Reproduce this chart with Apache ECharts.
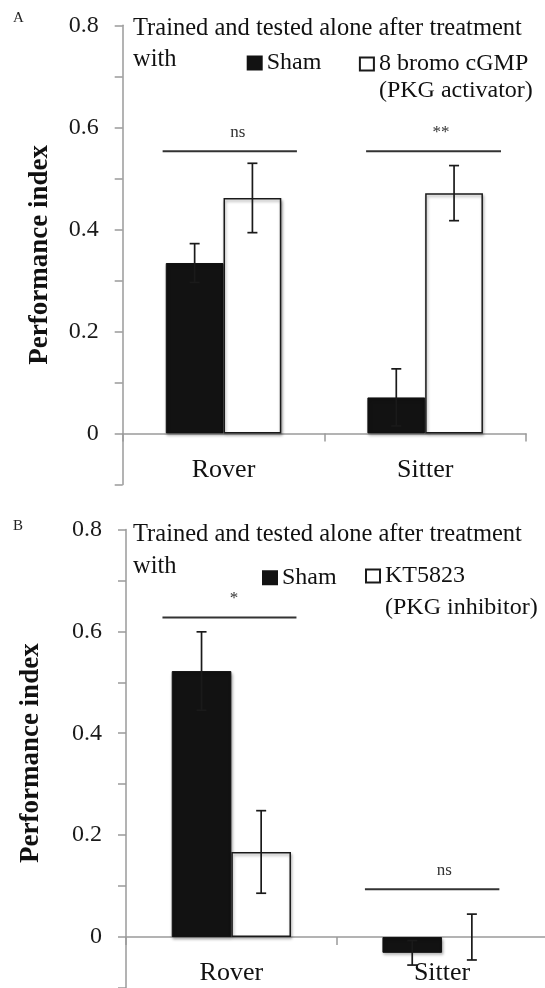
<!DOCTYPE html>
<html>
<head>
<meta charset="utf-8">
<script src="https://cdn.jsdelivr.net/npm/echarts@6/dist/echarts.min.js"></script>
<style>
html,body{margin:0;padding:0;background:#fff;}
#chart{width:545px;height:988px;}
</style>
</head>
<body>
<div id="chart"></div>
<script>
// ---------- data ----------
const CATEGORIES = ['Rover', 'Sitter'];

const A_SHAM = [0.334, 0.0705];
const A_SHAM_ERR = [0.038, 0.056];
const A_TREAT = [0.4615, 0.471];
const A_TREAT_ERR = [0.068, 0.054];
const A_SIG_LABELS = ['ns', '**'];
const A_SIG_Y = [0.553, 0.553];

const B_SHAM = [0.522, -0.031];
const B_SHAM_ERR = [0.077, 0.024];
const B_TREAT = [0.167, 0];
const B_TREAT_ERR = [0.081, 0.045];
const B_SIG_LABELS = ['*', 'ns'];
const B_SIG_Y = [0.627, 0.0936];

const Y_MIN = -0.1, Y_MAX = 0.8, Y_STEP = 0.1;

const A_NAMES = ['Sham', '8 bromo cGMP (PKG activator)'];
const B_NAMES = ['Sham', 'KT5823 (PKG inhibitor)'];
const TITLE_TEXT = 'Trained and tested alone after treatment\nwith';
const Y_NAME = 'Performance index';

// ---------- style / layout ----------
const FONT = '"Liberation Serif", "Times New Roman", serif';
const AXIS_GRAY = '#9a9a9a';
const GAP_A = 0.427, GAP_B = 0.434;
const SIG_OFF_A = [[-0.302, 0.364], [-0.293, 0.376]];
const SIG_TXT_A = [0.071, 0.079];
const SIG_OFF_B = [[-0.327, 0.309], [-0.366, 0.272]];
const SIG_TXT_B = [0.013, 0.011];
const GRID_A = {left: 122.7, top: 25.3, width: 403.3, height: 459.1, outerBoundsMode: 'none', containLabel: false};
const GRID_B = {left: 126, top: 529.4, width: 421.4, height: 458.6, outerBoundsMode: 'none', containLabel: false};

const barShadow = {shadowColor: 'rgba(0,0,0,0.35)', shadowBlur: 3, shadowOffsetY: 2, shadowOffsetX: 1};

function errRender(pos, gap) {
  return function (params, api) {
    const cat = api.value(0), val = api.value(1), err = api.value(2);
    const c = api.coord([cat, val]);
    const band = api.size([1, 0])[0];
    const bw = band * (1 - gap) / 2;
    const x = c[0] + (pos === 0 ? -bw / 2 : bw / 2);
    const yHi = api.coord([cat, val + err])[1];
    const yLo = api.coord([cat, val - err])[1];
    const h = 5;
    const st = {stroke: '#1a1a1a', lineWidth: 1.7};
    return {type: 'group', children: [
      {type: 'line', shape: {x1: x, y1: yHi, x2: x, y2: yLo}, style: st},
      {type: 'line', shape: {x1: x - h, y1: yHi, x2: x + h, y2: yHi}, style: st},
      {type: 'line', shape: {x1: x - h, y1: yLo, x2: x + h, y2: yLo}, style: st}
    ]};
  };
}

function sigRender(offs, txtOffs, labels) {
  return function (params, api) {
    const i = params.dataIndex;
    const c = api.coord([api.value(0), api.value(1)]);
    const band = api.size([1, 0])[0];
    const o = offs[i];
    return {type: 'group', children: [
      {type: 'line', shape: {x1: c[0] + o[0] * band, y1: c[1], x2: c[0] + o[1] * band, y2: c[1]},
        style: {stroke: '#333', lineWidth: 2}},
      {type: 'text', style: {x: c[0] + txtOffs[i] * band, y: c[1] - 19, text: labels[i],
        align: 'center', verticalAlign: 'middle', font: '17px ' + FONT, fill: '#333'}}
    ]};
  };
}

function yAxis(gridIndex, nameGap, namePad) {
  return {
    type: 'value', gridIndex: gridIndex, min: Y_MIN, max: Y_MAX, interval: Y_STEP,
    splitLine: {show: false},
    axisLine: {show: true, lineStyle: {color: AXIS_GRAY, width: 1.5}},
    axisTick: {show: true, length: 8, lineStyle: {color: AXIS_GRAY, width: 1.5}},
    axisLabel: {
      margin: 24, fontFamily: FONT, fontSize: 24, color: '#1a1a1a',
      formatter: function (v) {
        const k = Math.round(v * 10);
        if (k < 0 || k % 2 !== 0) return '';
        return k === 0 ? '0' : (k / 10).toFixed(1);
      }
    },
    name: Y_NAME, nameLocation: 'middle', nameRotate: 90, nameGap: nameGap, nameMoveOverlap: false,
    nameTextStyle: {fontFamily: FONT, fontSize: 27, fontWeight: 'bold', color: '#111', padding: namePad}
  };
}

function xAxis(gridIndex, grid, margin) {
  // place the category axis on the value 0 line of the y axis
  const zeroOffset = -grid.height * (0 - Y_MIN) / (Y_MAX - Y_MIN);
  return {
    type: 'category', gridIndex: gridIndex, data: CATEGORIES, position: 'bottom', offset: zeroOffset,
    axisLine: {show: true, onZero: false, lineStyle: {color: AXIS_GRAY, width: 1.5}},
    axisTick: {show: true, length: 8, lineStyle: {color: AXIS_GRAY, width: 1.5}},
    axisLabel: {margin: margin, fontFamily: FONT, fontSize: 26, color: '#111'}
  };
}

function legend(name, left, top, lh) {
  return {
    data: [name], left: left, top: top, padding: 0, orient: 'horizontal',
    icon: 'rect', itemWidth: 14, itemHeight: 13, selectedMode: false,
    formatter: function (n) {
      // multi-line names: blank first line keeps the first text line level with the icon
      return n.indexOf(' (') >= 0 ? '\n' + n.replace(' (', '\n(') : n;
    },
    textStyle: {fontFamily: FONT, fontSize: 24, color: '#111', lineHeight: lh}
  };
}

function barData(vals) {
  return vals.map(function (v) {
    return v === 0 ? {value: v, itemStyle: {borderWidth: 0, shadowBlur: 0, shadowOffsetY: 0, shadowOffsetX: 0}} : v;
  });
}
function errData(vals, errs) {
  return vals.map(function (v, i) { return [i, v, errs[i]]; });
}
function sigData(ys) {
  return ys.map(function (y, i) { return [i, y]; });
}

const shamStyle = Object.assign({color: '#121212', borderColor: '#121212', borderWidth: 1}, barShadow);
const treatStyle = Object.assign({color: '#ffffff', borderColor: '#1a1a1a', borderWidth: 1.5}, barShadow);

const titleStyle = {fontFamily: FONT, fontSize: 24.5, fontWeight: 'normal', color: '#111', lineHeight: 31.7};
const panelStyle = {fontFamily: FONT, fontSize: 15, fontWeight: 'normal', color: '#222'};

const option = {
  backgroundColor: '#ffffff',
  animation: false,
  title: [
    {text: 'A', left: 13, top: 11, padding: 0, textStyle: panelStyle},
    {text: TITLE_TEXT, left: 133, top: 12.5, padding: 0, textStyle: titleStyle},
    {text: 'B', left: 13, top: 519, padding: 0, textStyle: panelStyle},
    {text: TITLE_TEXT, left: 133, top: 519, padding: 0, textStyle: titleStyle}
  ],
  legend: [
    legend(A_NAMES[0], 246.7, 49.5, 27),
    legend(A_NAMES[1], 358.9, 23.5, 27),
    legend(B_NAMES[0], 262, 561.9, 31.7),
    legend(B_NAMES[1], 365, 528.5, 31.7)
  ],
  grid: [GRID_A, GRID_B],
  xAxis: [xAxis(0, GRID_A, 24), xAxis(1, GRID_B, 23.5)],
  yAxis: [yAxis(0, 69, 0), yAxis(1, 81, [0, 0, 0, 11])],
  series: [
    {name: A_NAMES[0], type: 'bar', xAxisIndex: 0, yAxisIndex: 0, data: barData(A_SHAM),
      barGap: '0%', barCategoryGap: (GAP_A * 100) + '%', itemStyle: shamStyle, z: 2},
    {name: A_NAMES[1], type: 'bar', xAxisIndex: 0, yAxisIndex: 0, data: barData(A_TREAT),
      barGap: '0%', barCategoryGap: (GAP_A * 100) + '%', itemStyle: treatStyle, z: 2},
    {type: 'custom', xAxisIndex: 0, yAxisIndex: 0, data: errData(A_SHAM, A_SHAM_ERR), renderItem: errRender(0, GAP_A), z: 4, clip: false, silent: true},
    {type: 'custom', xAxisIndex: 0, yAxisIndex: 0, data: errData(A_TREAT, A_TREAT_ERR), renderItem: errRender(1, GAP_A), z: 4, clip: false, silent: true},
    {type: 'custom', xAxisIndex: 0, yAxisIndex: 0, data: sigData(A_SIG_Y), renderItem: sigRender(SIG_OFF_A, SIG_TXT_A, A_SIG_LABELS), z: 4, clip: false, silent: true},

    {name: B_NAMES[0], type: 'bar', xAxisIndex: 1, yAxisIndex: 1, data: barData(B_SHAM),
      barGap: '0%', barCategoryGap: (GAP_B * 100) + '%', itemStyle: shamStyle, z: 2},
    {name: B_NAMES[1], type: 'bar', xAxisIndex: 1, yAxisIndex: 1, data: barData(B_TREAT),
      barGap: '0%', barCategoryGap: (GAP_B * 100) + '%', itemStyle: treatStyle, z: 2},
    {type: 'custom', xAxisIndex: 1, yAxisIndex: 1, data: errData(B_SHAM, B_SHAM_ERR), renderItem: errRender(0, GAP_B), z: 4, clip: false, silent: true},
    {type: 'custom', xAxisIndex: 1, yAxisIndex: 1, data: errData(B_TREAT, B_TREAT_ERR), renderItem: errRender(1, GAP_B), z: 4, clip: false, silent: true},
    {type: 'custom', xAxisIndex: 1, yAxisIndex: 1, data: sigData(B_SIG_Y), renderItem: sigRender(SIG_OFF_B, SIG_TXT_B, B_SIG_LABELS), z: 4, clip: false, silent: true}
  ]
};

const chart = echarts.init(document.getElementById('chart'), null, {renderer: 'canvas'});
chart.setOption(option);
</script>
</body>
</html>
